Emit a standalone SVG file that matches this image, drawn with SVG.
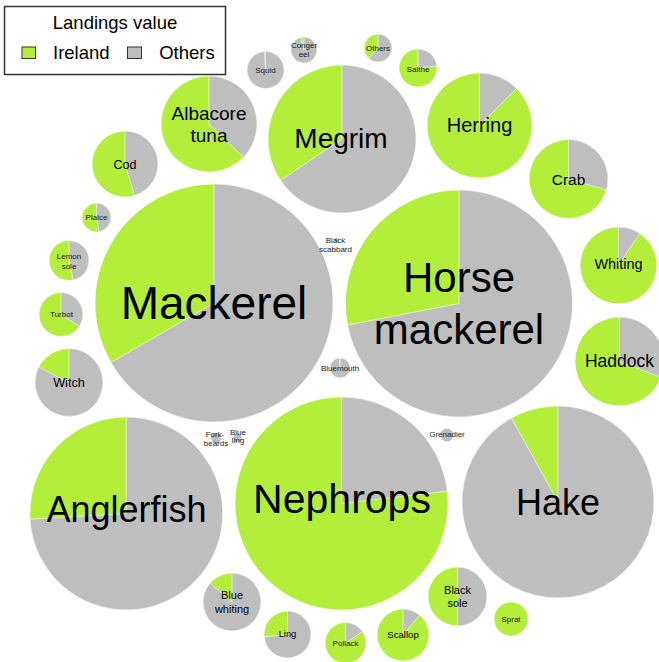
<svg xmlns="http://www.w3.org/2000/svg" width="659" height="662" viewBox="0 0 659 662">
<style>
.ie{fill:#b3ee3a;stroke:#fff;stroke-width:0.6}
.ot{fill:#bebebe;stroke:#fff;stroke-width:0.6}
text{font-family:"Liberation Sans",Arial,Helvetica,sans-serif;fill:#000;text-anchor:middle}
.s8{font-size:8px;fill:#1a1a1a}
.leg{font-size:18.5px}
.sw{stroke:#333;stroke-width:1}
</style>
<rect width="659" height="662" fill="#fff"/>
<g id="connectors"></g>

<g id="mackerel">
<circle class="ie" cx="214" cy="303" r="119"/>
<path class="ot" d="M214,303 L214,184 A119,119 0 1 1 110.94,362.5 Z"/>
<text x="214" y="319" style="font-size:46px">Mackerel</text>
</g>

<g id="horse-mackerel">
<circle class="ie" cx="459" cy="303.5" r="113.5"/>
<path class="ot" d="M459,303.5 L459,190 A113.5,113.5 0 1 1 347.59,325.16 Z"/>
<text x="459" y="291.7" style="font-size:42px">Horse</text>
<text x="459" y="344" style="font-size:42px">mackerel</text>
</g>

<g id="megrim">
<circle class="ie" cx="342" cy="139" r="74"/>
<path class="ot" d="M342,139 L342,65 A74,74 0 1 1 280.65,180.38 Z"/>
<text x="341" y="148" style="font-size:28px">Megrim</text>
</g>

<g id="albacore-tuna">
<circle class="ie" cx="209" cy="124" r="48"/>
<path class="ot" d="M209,124 L209,76 A48,48 0 0 1 243.53,157.35 Z"/>
<text x="209" y="120" style="font-size:19px">Albacore</text>
<text x="209" y="141.5" style="font-size:19px">tuna</text>
</g>

<g id="cod">
<circle class="ie" cx="125" cy="164" r="33"/>
<path class="ot" d="M125,164 L125,131 A33,33 0 0 1 134.65,195.56 Z"/>
<text x="125" y="169" style="font-size:12.5px">Cod</text>
</g>

<g id="squid">
<circle class="ie" cx="265.5" cy="70" r="18.5"/>
<path class="ot" d="M265.5,70 L265.5,51.5 A18.5,18.5 0 1 1 264.53,51.53 Z"/>
<text class="s8" x="265.5" y="72.7">Squid</text>
</g>

<g id="conger-eel">
<circle class="ie" cx="304" cy="50" r="13"/>
<path class="ot" d="M304,50 L304,37 A13,13 0 1 1 300.64,37.44 Z"/>
<text class="s8" x="304" y="47.7">Conger</text>
<text class="s8" x="304" y="57.3">eel</text>
</g>

<g id="others">
<circle class="ie" cx="378" cy="48" r="14"/>
<path class="ot" d="M378,48 L378,34 A14,14 0 1 1 368.63,58.4 Z"/>
<text class="s8" x="378" y="50.7">Others</text>
</g>

<g id="saithe">
<circle class="ie" cx="418" cy="68" r="19"/>
<path class="ot" d="M418,68 L418,49 A19,19 0 0 1 436.9,66.01 Z"/>
<text class="s8" x="418" y="71.7">Saithe</text>
</g>

<g id="herring">
<circle class="ie" cx="479.5" cy="125.5" r="52.5"/>
<path class="ot" d="M479.5,125.5 L479.5,73 A52.5,52.5 0 0 1 516.62,88.38 Z"/>
<text x="479.5" y="131.7" style="font-size:20px">Herring</text>
</g>

<g id="crab">
<circle class="ie" cx="568.5" cy="179" r="39.5"/>
<path class="ot" d="M568.5,179 L568.5,139.5 A39.5,39.5 0 0 1 606.47,189.89 Z"/>
<text x="568.5" y="185" style="font-size:15.5px">Crab</text>
</g>

<g id="whiting">
<circle class="ie" cx="618.5" cy="265.5" r="38.5"/>
<path class="ot" d="M618.5,265.5 L618.5,227 A38.5,38.5 0 0 1 639.75,233.4 Z"/>
<text x="618.5" y="269.3" style="font-size:14.4px">Whiting</text>
</g>

<g id="haddock">
<circle class="ie" cx="619.5" cy="361.5" r="44.5"/>
<path class="ot" d="M619.5,361.5 L619.5,317 A44.5,44.5 0 0 1 661.04,377.45 Z"/>
<text x="619.5" y="367.3" style="font-size:17.5px">Haddock</text>
</g>

<g id="hake">
<circle class="ie" cx="558" cy="502" r="96"/>
<path class="ot" d="M558,502 L558,406 A96,96 0 1 1 511.46,418.04 Z"/>
<text x="558" y="515" style="font-size:36px">Hake</text>
</g>

<g id="nephrops">
<circle class="ie" cx="341.5" cy="503.5" r="106.5"/>
<path class="ot" d="M341.5,503.5 L341.5,397 A106.5,106.5 0 0 1 447.27,491.07 Z"/>
<text x="342" y="513.3" style="font-size:41px">Nephrops</text>
</g>

<g id="anglerfish">
<circle class="ie" cx="126.3" cy="513.5" r="96.5"/>
<path class="ot" d="M126.3,513.5 L126.3,417 A96.5,96.5 0 1 1 29.97,519.22 Z"/>
<text x="126.5" y="521.7" style="font-size:36px">Anglerfish</text>
</g>

<g id="witch">
<circle class="ie" cx="69" cy="382.5" r="34"/>
<path class="ot" d="M69,382.5 L69,348.5 A34,34 0 1 1 38.71,367.06 Z"/>
<text x="69" y="387.3" style="font-size:12.7px">Witch</text>
</g>

<g id="turbot">
<circle class="ie" cx="61" cy="314.5" r="22"/>
<path class="ot" d="M61,314.5 L61,292.5 A22,22 0 0 1 79.51,326.38 Z"/>
<text class="s8" x="61.5" y="317">Turbot</text>
</g>

<g id="lemon-sole">
<circle class="ie" cx="69" cy="260.5" r="20"/>
<path class="ot" d="M69,260.5 L69,240.5 A20,20 0 0 1 73.16,280.06 Z"/>
<text class="s8" x="69" y="259.3">Lemon</text>
<text class="s8" x="69" y="268.5">sole</text>
</g>

<g id="plaice">
<circle class="ie" cx="96.5" cy="217.5" r="14.5"/>
<path class="ot" d="M96.5,217.5 L96.5,203 A14.5,14.5 0 0 1 99.02,231.78 Z"/>
<text class="s8" x="96.5" y="220">Plaice</text>
</g>

<g id="black-scabbard">
<circle class="ot" cx="336.7" cy="240" r="2.2" style="stroke:none"/>
<text class="s8" x="335.5" y="243.3">Black</text>
<text class="s8" x="335.5" y="251.7">scabbard</text>
</g>

<g id="bluemouth">
<circle class="ie" cx="340" cy="368" r="10"/>
<path class="ot" d="M340,368 L340,358 A10,10 0 1 1 339.65,358.01 Z"/>
<text class="s8" x="340" y="370.7">Bluemouth</text>
</g>

<g id="fork-beards">
<circle class="ot" cx="216" cy="438" r="5" style="stroke:none"/>
<text class="s8" x="215" y="437.3">Fork-</text>
<text class="s8" x="216" y="446">beards</text>
</g>

<g id="blue-ling">
<circle class="ot" cx="237.7" cy="438" r="4" style="stroke:none"/>
<text class="s8" x="238" y="435">Blue</text>
<text class="s8" x="238" y="442.7">ling</text>
</g>

<g id="grenadier">
<circle class="ot" cx="447" cy="435" r="6.5" style="stroke:none"/>
<text class="s8" x="447" y="437.3">Grenadier</text>
</g>

<g id="blue-whiting">
<circle class="ie" cx="232" cy="602" r="29"/>
<path class="ot" d="M232,602 L232,573 A29,29 0 1 1 209.98,583.13 Z"/>
<text x="232" y="599.3" style="font-size:11px">Blue</text>
<text x="232" y="613.3" style="font-size:11px">whiting</text>
</g>

<g id="ling">
<circle class="ie" cx="287.5" cy="634.5" r="23.5"/>
<path class="ot" d="M287.5,634.5 L287.5,611 A23.5,23.5 0 1 1 264.13,636.96 Z"/>
<text x="287.5" y="636.7" style="font-size:9.3px">Ling</text>
</g>

<g id="pollack">
<circle class="ie" cx="345.5" cy="643" r="20.5"/>
<path class="ot" d="M345.5,643 L345.5,622.5 A20.5,20.5 0 0 1 362.5,631.54 Z"/>
<text class="s8" x="345.5" y="645.7">Pollack</text>
</g>

<g id="scallop">
<circle class="ie" cx="403" cy="635" r="26"/>
<path class="ot" d="M403,635 L403,609 A26,26 0 0 1 419.71,615.08 Z"/>
<text x="403" y="638.3" style="font-size:9.6px">Scallop</text>
</g>

<g id="black-sole">
<circle class="ie" cx="457.5" cy="596.5" r="29.5"/>
<path class="ot" d="M457.5,596.5 L457.5,567 A29.5,29.5 0 0 1 457.5,626 Z"/>
<text x="457.5" y="593.7" style="font-size:11px">Black</text>
<text x="457.5" y="606.7" style="font-size:11px">sole</text>
</g>

<g id="sprat">
<circle class="ie" cx="511" cy="619" r="17"/>
<text class="s8" x="511" y="621.5">Sprat</text>
</g>

<g id="legend">
<rect x="4.5" y="6.5" width="221" height="68" fill="#fff" stroke="#333" stroke-width="1.5"/>
<text class="leg" x="115" y="29.3">Landings value</text>
<rect class="sw" x="22" y="47" width="13.5" height="11.5" fill="#b3ee3a"/>
<text class="leg" x="81.3" y="59" >Ireland</text>
<rect class="sw" x="127.5" y="47" width="14" height="11.5" fill="#bebebe"/>
<text class="leg" x="187" y="59">Others</text>
</g>
</svg>
